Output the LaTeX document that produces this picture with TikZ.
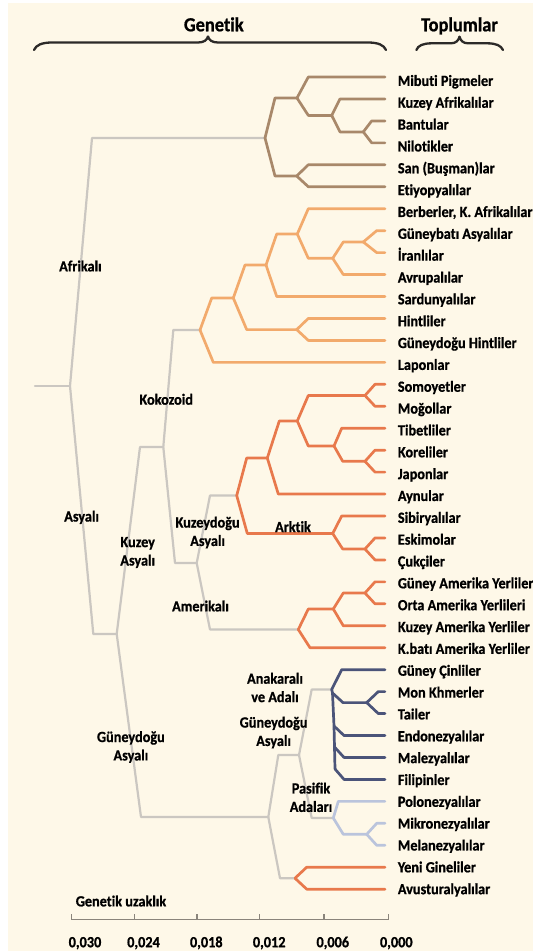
\documentclass[tikz,border=0pt]{standalone}
\usepackage{fontspec}
\setmainfont{Carlito}[FakeStretch=0.92, Ligatures={NoCommon}, BoldFeatures={FakeBold=0.8}]
\usetikzlibrary{calc}
\definecolor{cbg}{HTML}{FEF8E8}
\definecolor{cgray}{HTML}{CBC7C1}
\definecolor{caf}{HTML}{A8886A}
\definecolor{cko}{HTML}{F2AA6C}
\definecolor{cne}{HTML}{E8794C}
\definecolor{cnavy}{HTML}{4B5479}
\definecolor{cpac}{HTML}{BAC4DC}
\definecolor{caxis}{HTML}{8A847B}
\definecolor{cbrace}{HTML}{2C2A28}
\newcommand\brarm[4]{\draw[#1] (#2) -- (#3,0 |- #4) -- (#4);}
\tikzset{
  brline/.style={line width=2.7pt, line join=round, line cap=round},
  gr/.style={brline, draw=cgray, line width=2.2pt},
  af/.style={brline, draw=caf},
  ko/.style={brline, draw=cko},
  ne/.style={brline, draw=cne},
  nv/.style={brline, draw=cnavy},
  pa/.style={brline, draw=cpac},
  leaf/.style={anchor=base west, inner sep=0pt, font=\fontsize{15.5}{18.4}\selectfont\bfseries},
  lbl/.style={inner sep=0pt, align=center, font=\fontsize{15.5}{18.4}\selectfont\bfseries},
  hdr/.style={anchor=base, inner sep=0pt, font=\fontsize{20}{24}\selectfont\bfseries},
  bracestyle/.style={draw=cbrace, line width=2.3pt, line cap=round, line join=round},
  axisline/.style={draw=caxis, line width=1.6pt}
}
\begin{document}
\begin{tikzpicture}[x=1pt,y=-1pt]
\useasboundingbox (0,0) rectangle (533,951);
\fill[white] (0,0) rectangle (533,951);
\fill[cbg] (8.3,2.7) rectangle (533,951);

% headers and braces
\node[hdr] (hgen) at (213.8,31.3) {Genetik};
\node[hdr] (htop) at (459.5,31.3) {Toplumlar};
\draw[bracestyle] (34,50) .. controls (36,45) and (42,42.5) .. (52,42.5) -- (198,42.5)
  .. controls (204,42.5) and (207,40) .. (208,36.5) .. controls (209,40) and (212,42.5) .. (218,42.5)
  -- (368,42.5) .. controls (378,42.5) and (384,45) .. (386,50);
\draw[bracestyle] (416.4,50) .. controls (418,45.5) and (423,43.3) .. (432,43.3) -- (451,43.3)
  .. controls (456,43.3) and (458.5,40.5) .. (459.5,36.7) .. controls (460.5,40.5) and (463,43.3) .. (468,43.3)
  -- (487,43.3) .. controls (496,43.3) and (501,45.5) .. (503,50);

% leaves
\foreach \nm [count=\i] in {Mibuti Pigmeler, Kuzey Afrikalılar, Bantular, Nilotikler,
  San (Buşman)lar, Etiyopyalılar, {Berberler, K. Afrikalılar}, Güneybatı Asyalılar,
  İranlılar, Avrupalılar, Sardunyalılar, Hintliler, Güneydoğu Hintliler, Laponlar,
  Somoyetler, Moğollar, Tibetliler, Koreliler, Japonlar, Aynular, Sibiryalılar,
  Eskimolar, Çukçiler, Güney Amerika Yerliler, Orta Amerika Yerlileri,
  Kuzey Amerika Yerliler, K.batı Amerika Yerliler, Güney Çinliler, Mon Khmerler,
  Tailer, Endonezyalılar, Malezyalılar, Filipinler, Polonezyalılar, Mikronezyalılar,
  Melanezyalılar, Yeni Gineliler, Avusturalyalılar}{
  \coordinate (e\i) at (385,{77+(\i-1)*21.95});
  \node[leaf] (t\i) at (397.7,{85.9+(\i-1)*21.845}) {\nm};
}

% internal nodes
\coordinate (rin) at (35,386);
\coordinate (R0) at (70,386);
\coordinate (A0) at (116.7,634);
\coordinate (NA0) at (163.3,447);
\coordinate (NX) at (196.7,563);
\coordinate (S0) at (268.3,817);
\coordinate (S1) at (299,755);
% African
\coordinate (Naf) at (265,138);
\coordinate (Na1) at (297,98);
\coordinate (Na2) at (331.7,115.4);
\coordinate (Na3) at (363.3,131.9);
\coordinate (Na4) at (296.7,176);
% Caucasoid
\coordinate (K0) at (200,330);
\coordinate (K1) at (233.3,298);
\coordinate (K2) at (266,265);
\coordinate (K3) at (297.3,234);
\coordinate (K4) at (332.7,258.3);
\coordinate (K4b) at (363.3,242);
\coordinate (K5) at (296.7,329.6);
% NE Asian
\coordinate (Nne) at (236.7,495.5);
\coordinate (E1) at (267.3,458);
\coordinate (E2) at (297.3,421);
\coordinate (E3) at (365,395.5);
\coordinate (E4) at (334,446);
\coordinate (E4b) at (365,461.3);
\coordinate (E5) at (332.7,533.5);
\coordinate (E5b) at (365,549);
% Americas
\coordinate (Am0) at (298.3,629.5);
\coordinate (Am1) at (333.3,609);
\coordinate (Am2) at (365,593);
% SE Asia mainland
\coordinate (M0) at (331.7,689.5);
\coordinate (c1) at (332.5,693);
\coordinate (c2) at (334,726);
\coordinate (c3) at (334.5,747);
\coordinate (c4) at (335,769);
\coordinate (MT) at (366.7,702.6);
% Pacific
\coordinate (PI) at (333.3,818);
\coordinate (PI2) at (366.7,834.3);
% Papua
\coordinate (PP) at (295,878.2);

% gray backbone
\draw[gr] (rin) -- (R0);
\brarm{gr}{R0}{92}{Naf}
\brarm{gr}{R0}{93.3}{A0}
\brarm{gr}{A0}{140}{NA0}
\brarm{gr}{A0}{141}{S0}
\brarm{gr}{NA0}{173.3}{K0}
\brarm{gr}{NA0}{175}{NX}
\brarm{gr}{NX}{210}{Nne}
\brarm{gr}{NX}{210}{Am0}
\brarm{gr}{S0}{278.3}{S1}
\brarm{gr}{S0}{280}{PP}
\brarm{gr}{S1}{311.7}{M0}
\brarm{gr}{S1}{311.7}{PI}

% African
\brarm{af}{Naf}{275}{Na1}
\brarm{af}{Naf}{275}{Na4}
\brarm{af}{Na1}{308.3}{e1}
\brarm{af}{Na1}{308.3}{Na2}
\brarm{af}{Na2}{340}{e2}
\brarm{af}{Na2}{340}{Na3}
\brarm{af}{Na3}{371.7}{e3}
\brarm{af}{Na3}{371.7}{e4}
\brarm{af}{Na4}{308.3}{e5}
\brarm{af}{Na4}{308.3}{e6}

% Caucasoid
\brarm{ko}{K0}{211.7}{K1}
\brarm{ko}{K0}{213.3}{e14}
\brarm{ko}{K1}{245}{K2}
\brarm{ko}{K1}{246.7}{K5}
\brarm{ko}{K2}{276.7}{K3}
\brarm{ko}{K2}{276.7}{e11}
\brarm{ko}{K3}{308.3}{e7}
\brarm{ko}{K3}{308.3}{K4}
\brarm{ko}{K4}{343.3}{K4b}
\brarm{ko}{K4}{343.3}{e10}
\brarm{ko}{K4b}{376.7}{e8}
\brarm{ko}{K4b}{376.7}{e9}
\brarm{ko}{K5}{308.3}{e12}
\brarm{ko}{K5}{308.3}{e13}

% NE Asian
\brarm{ne}{Nne}{246.7}{E1}
\brarm{ne}{Nne}{247.3}{E5}
\brarm{ne}{E1}{279.3}{E2}
\brarm{ne}{E1}{278.3}{e20}
\brarm{ne}{E2}{308.3}{E3}
\brarm{ne}{E2}{308.3}{E4}
\brarm{ne}{E3}{375}{e15}
\brarm{ne}{E3}{375}{e16}
\brarm{ne}{E4}{341.7}{e17}
\brarm{ne}{E4}{342.7}{E4b}
\brarm{ne}{E4b}{375}{e18}
\brarm{ne}{E4b}{375}{e19}
\brarm{ne}{E5}{341.7}{e21}
\brarm{ne}{E5}{342.7}{E5b}
\brarm{ne}{E5b}{375}{e22}
\brarm{ne}{E5b}{375}{e23}

% Americas
\brarm{ne}{Am0}{308.3}{Am1}
\brarm{ne}{Am0}{310}{e27}
\brarm{ne}{Am1}{343.3}{Am2}
\brarm{ne}{Am1}{343.3}{e26}
\brarm{ne}{Am2}{375}{e24}
\brarm{ne}{Am2}{375}{e25}

% SE Asian mainland and islands
\draw[nv] (M0) -- (c1) -- (c2) -- (c3) -- (c4);
\brarm{nv}{M0}{341.7}{e28}
\brarm{nv}{c1}{343}{MT}
\brarm{nv}{MT}{378.3}{e29}
\brarm{nv}{MT}{378.3}{e30}
\brarm{nv}{c2}{344}{e31}
\brarm{nv}{c3}{344}{e32}
\brarm{nv}{c4}{344}{e33}

% Pacific
\brarm{pa}{PI}{338.3}{e34}
\brarm{pa}{PI}{343.3}{PI2}
\brarm{pa}{PI2}{376.7}{e35}
\brarm{pa}{PI2}{376.7}{e36}

% Papua / Australia
\brarm{ne}{PP}{306.7}{e37}
\brarm{ne}{PP}{306.7}{e38}

% group labels
\node[lbl] (lafr) at (80.4,266) {Afrikalı};
\node[lbl] (lasy) at (81.6,517.3) {Asyalı};
\node[lbl] (lkok) at (166.2,399.3) {Kokozoid};
\node[lbl] (lkuz) at (137.7,552.5) {Kuzey\\Asyalı};
\node[lbl] (lkne) at (207.6,532.5) {Kuzeydoğu\\Asyalı};
\node[lbl] (lark) at (293,526.7) {Arktik};
\node[lbl] (lame) at (200.5,606) {Amerikalı};
\node[lbl] (lana) at (275,687.5) {Anakaralı\\ve Adalı};
\node[lbl] (lgd2) at (273.6,732.5) {Güneydoğu\\Asyalı};
\node[lbl] (lgd1) at (130.9,747) {Güneydoğu\\Asyalı};
\node[lbl] (lpas) at (311,797.3) {Pasifik\\Adaları};

% axis
\node[lbl] (lgu) at (121,901) {Genetik uzaklık};
\coordinate (ax0) at (71.4,919.3);
\coordinate (ax1) at (388.5,919.3);
\draw[axisline] (ax0) -- (ax1);
\foreach \tx/\lx/\lab in {71.4/85/{0,030}, 134.3/143.5/{0,024}, 197.1/206.3/{0,018},
  259.3/269.2/{0,012}, 323.9/332.8/{0,006}, 388.5/396.3/{0,000}}{
  \draw[axisline] (\tx,919.3) -- (\tx,913.5);
  \node[lbl, anchor=base] at (\lx,947.2) {\lab};
}
\end{tikzpicture}
\end{document}
